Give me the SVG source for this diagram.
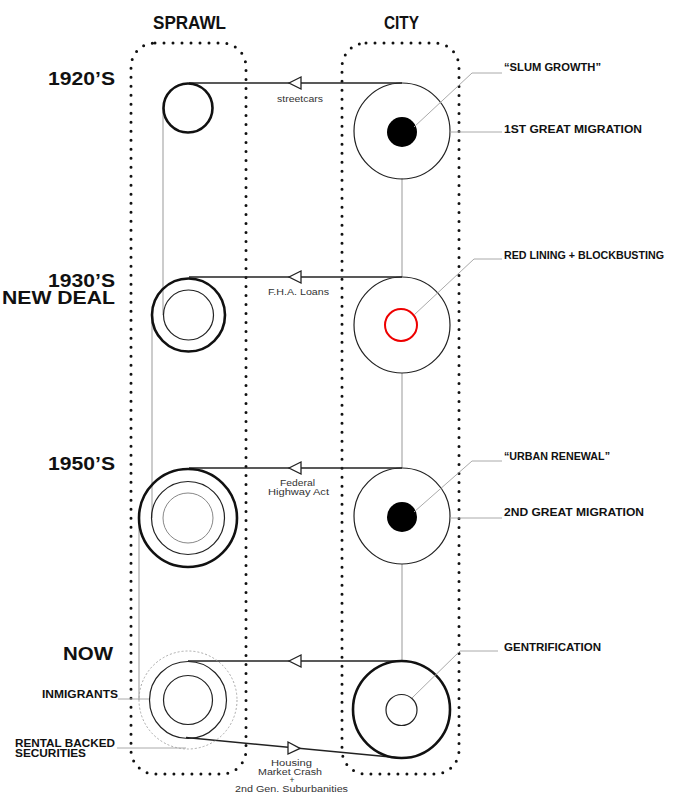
<svg xmlns="http://www.w3.org/2000/svg" width="677" height="794" viewBox="0 0 677 794">
<style>
.box{fill:none;stroke:#111;stroke-width:3;stroke-linecap:round;stroke-dasharray:0 9}
.conn{fill:none;stroke:#222;stroke-width:1.5}
.vert{fill:none;stroke:#999;stroke-width:1}
.lead{fill:none;stroke:#aaa;stroke-width:1}
.tri{fill:#fff;stroke:#222;stroke-width:1.3}
.thick{fill:none;stroke:#111;stroke-width:2.6}
.thin{fill:none;stroke:#222;stroke-width:1.2}
.light{fill:none;stroke:#888;stroke-width:1}
.hd{font-family:"Liberation Sans",Arial,sans-serif;font-weight:bold;font-size:19px;fill:#111}
.lb{font-family:"Liberation Sans",Arial,sans-serif;font-weight:bold;font-size:11px;fill:#111}
.lb2{font-family:"Liberation Sans",Arial,sans-serif;font-weight:bold;font-size:10px;fill:#111}
.sm{font-family:"Liberation Sans",Arial,sans-serif;font-size:9.5px;fill:#333}
.sm2{font-family:"Liberation Sans",Arial,sans-serif;font-size:8.5px;fill:#333}
</style>
<rect fill="#fff" x="0" y="0" width="677" height="794"/>
<g id="frames">
<rect class="box" x="131" y="43" width="115" height="731" rx="24"/>
<rect class="box" x="342" y="43" width="117" height="731" rx="24"/>
</g>
<g id="headers">
<text class="hd" x="153" y="29" textLength="73" lengthAdjust="spacingAndGlyphs">SPRAWL</text>
<text class="hd" x="384" y="29" textLength="35" lengthAdjust="spacingAndGlyphs">CITY</text>
<text class="hd" x="48" y="85" textLength="67" lengthAdjust="spacingAndGlyphs">1920’S</text>
<text class="hd" x="48" y="287" textLength="67" lengthAdjust="spacingAndGlyphs">1930’S</text>
<text class="hd" x="2" y="304" textLength="113" lengthAdjust="spacingAndGlyphs">NEW DEAL</text>
<text class="hd" x="48" y="470" textLength="67" lengthAdjust="spacingAndGlyphs">1950’S</text>
<text class="hd" x="63" y="660" textLength="50" lengthAdjust="spacingAndGlyphs">NOW</text>
</g>
<g id="connectors">
<line class="vert" x1="163" y1="108" x2="163" y2="315"/>
<line class="vert" x1="152" y1="315" x2="152" y2="518"/>
<line class="vert" x1="139" y1="518" x2="139" y2="700"/>
<line class="vert" x1="402" y1="178" x2="402" y2="277"/>
<line class="vert" x1="402" y1="373" x2="402" y2="468"/>
<line class="vert" x1="402" y1="564" x2="402" y2="661"/>
<line class="conn" x1="402" y1="83" x2="189" y2="83"/>
<polygon class="tri" points="289,83 301,77 301,89"/>
<line class="conn" x1="402" y1="277" x2="189" y2="277"/>
<polygon class="tri" points="289,277 301,271 301,283"/>
<line class="conn" x1="402" y1="468" x2="189" y2="468"/>
<polygon class="tri" points="289,468 301,462 301,474"/>
<line class="conn" x1="402" y1="661" x2="188" y2="661"/>
<polygon class="tri" points="289,661 301,655 301,667"/>
<line class="conn" x1="186" y1="737.5" x2="401" y2="758"/>
<polygon class="tri" points="300,748.4 288,742 288,754"/>
<text class="sm" x="277" y="102" textLength="46" lengthAdjust="spacingAndGlyphs">streetcars</text>
<text class="sm" x="268" y="295" textLength="61" lengthAdjust="spacingAndGlyphs">F.H.A. Loans</text>
<text class="sm" x="280" y="486" textLength="35" lengthAdjust="spacingAndGlyphs">Federal</text>
<text class="sm" x="268" y="495" textLength="61" lengthAdjust="spacingAndGlyphs">Highway Act</text>
<text class="sm2" x="271" y="766" textLength="41" lengthAdjust="spacingAndGlyphs">Housing</text>
<text class="sm2" x="258" y="775" textLength="64" lengthAdjust="spacingAndGlyphs">Market Crash</text>
<text class="sm2" x="292" y="783" text-anchor="middle">+</text>
<text class="sm2" x="235" y="792" textLength="113" lengthAdjust="spacingAndGlyphs">2nd Gen. Suburbanities</text>
</g>
<g id="sprawl-1920">
<circle class="thick" cx="188" cy="108" r="24.5"/>
</g>
<g id="sprawl-1930">
<circle class="thick" cx="188.5" cy="315" r="36.5"/>
<circle class="thin" cx="188.5" cy="315" r="25"/>
</g>
<g id="sprawl-1950">
<circle class="thick" cx="188" cy="518" r="49"/>
<circle class="thin" cx="188" cy="518" r="36.5"/>
<circle class="light" cx="188" cy="518" r="25"/>
</g>
<g id="sprawl-now">
<circle fill="none" stroke="#aaa" stroke-width="1" stroke-dasharray="2 2" cx="188" cy="700" r="49"/>
<circle class="thin" cx="188" cy="700" r="38.5"/>
<circle class="thin" cx="188" cy="700" r="24.5"/>
</g>
<g id="city-1920">
<circle class="thin" cx="402" cy="131" r="48"/>
<circle fill="#000" cx="402" cy="132" r="15"/>
</g>
<g id="city-1930">
<circle class="thin" cx="402" cy="325" r="48"/>
<circle fill="none" stroke="#e00" stroke-width="2" cx="401" cy="325" r="16"/>
</g>
<g id="city-1950">
<circle class="thin" cx="402" cy="516" r="48"/>
<circle fill="#000" cx="402" cy="517" r="15"/>
</g>
<g id="city-now">
<circle class="thick" cx="401.5" cy="709.5" r="48.5"/>
<circle class="thin" cx="401.5" cy="710" r="15.5"/>
</g>
<g id="labels">
<polyline class="lead" points="414,127 472,73 502,73"/>
<text class="lb" x="504" y="71" textLength="97" lengthAdjust="spacingAndGlyphs">“SLUM GROWTH”</text>
<line class="lead" x1="450" y1="132" x2="502" y2="132"/>
<text class="lb" x="504" y="133" textLength="138" lengthAdjust="spacingAndGlyphs">1ST GREAT MIGRATION</text>
<polyline class="lead" points="414,315 474,259 502,259"/>
<text class="lb" x="504" y="259" textLength="160" lengthAdjust="spacingAndGlyphs">RED LINING + BLOCKBUSTING</text>
<polyline class="lead" points="414,512 472,461 502,461"/>
<text class="lb" x="504" y="460" textLength="106" lengthAdjust="spacingAndGlyphs">“URBAN RENEWAL”</text>
<line class="lead" x1="450" y1="518" x2="502" y2="518"/>
<text class="lb" x="504" y="516" textLength="140" lengthAdjust="spacingAndGlyphs">2ND GREAT MIGRATION</text>
<polyline class="lead" points="412,698 460,651 498,651"/>
<text class="lb" x="504" y="651" textLength="97" lengthAdjust="spacingAndGlyphs">GENTRIFICATION</text>
<line class="lead" x1="118" y1="699" x2="149" y2="699"/>
<text class="lb" x="42" y="698" textLength="76" lengthAdjust="spacingAndGlyphs">INMIGRANTS</text>
<line class="lead" x1="117" y1="748" x2="186" y2="748"/>
<text class="lb2" x="15" y="747" textLength="100" lengthAdjust="spacingAndGlyphs">RENTAL BACKED</text>
<text class="lb2" x="15" y="757" textLength="71" lengthAdjust="spacingAndGlyphs">SECURITIES</text>
</g>
</svg>
